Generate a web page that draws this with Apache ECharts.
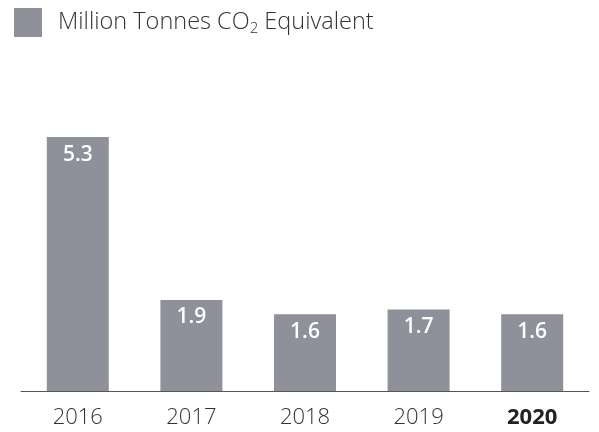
<!DOCTYPE html>
<html>
<head>
<meta charset="utf-8">
<script src="https://cdn.jsdelivr.net/npm/echarts@6/dist/echarts.min.js"></script>
<style>
  html, body { margin: 0; padding: 0; background: #fff; }
  #chart { width: 599px; height: 432px; }
</style>
</head>
<body>
<div id="chart"></div>
<script>
// data
var years = ['2016', '2017', '2018', '2019', '2020']
var emissions = [5.3, 1.9, 1.6, 1.7, 1.6]
var seriesName = 'Million Tonnes CO2 Equivalent'

var barColor = '#8e9199'
var font = '"Open Sans", "Noto Sans", sans-serif'

var myChart = echarts.init(document.getElementById('chart'))
myChart.setOption({
    animation: false,
    legend: {
        data: [seriesName],
        left: 9,
        top: 3,
        icon: 'rect',
        itemWidth: 28,
        itemHeight: 29,
        formatter: function() { return '{p|}{a|Million Tonnes CO}{s|2}{a| Equivalent}' },
        textStyle: {
            rich: {
                p: { width: 11 },
                a: { fontFamily: font, fontSize: 23.5, fontWeight: 300, color: '#333' },
                s: { fontFamily: font, fontSize: 15, fontWeight: 300, color: '#333', padding: [13, 0, 0, 0] }
            }
        }
    },
    grid: {
        left: 21,
        right: 10,
        top: 103.5,
        bottom: 41,
        containLabel: false
    },
    xAxis: {
        type: 'category',
        data: years,
        axisLine: { lineStyle: { color: '#555', width: 1 } },
        axisTick: { show: false },
        axisLabel: {
            interval: 0,
            margin: 15,
            fontFamily: font,
            fontSize: 22,
            fontWeight: 300,
            lineHeight: 23,
            color: '#333',
            formatter: function(v) { return v === '2020' ? '{b|' + v + '}' : v },
            rich: {
                b: { fontFamily: font, fontSize: 22, lineHeight: 23, fontWeight: 'bold', color: '#222' }
            }
        }
    },
    yAxis: {
        type: 'value',
        min: 0,
        max: 6,
        show: false
    },
    series: [{
        name: seriesName,
        type: 'bar',
        barWidth: 62,
        color: barColor,
        data: emissions,
        label: {
            show: true,
            position: 'insideTop',
            distance: 7,
            fontFamily: font,
            fontSize: 21,
            fontWeight: 600,
            color: '#fff',
            formatter: function(p) { return p.value.toFixed(1) }
        }
    }]
})
</script>
</body>
</html>
